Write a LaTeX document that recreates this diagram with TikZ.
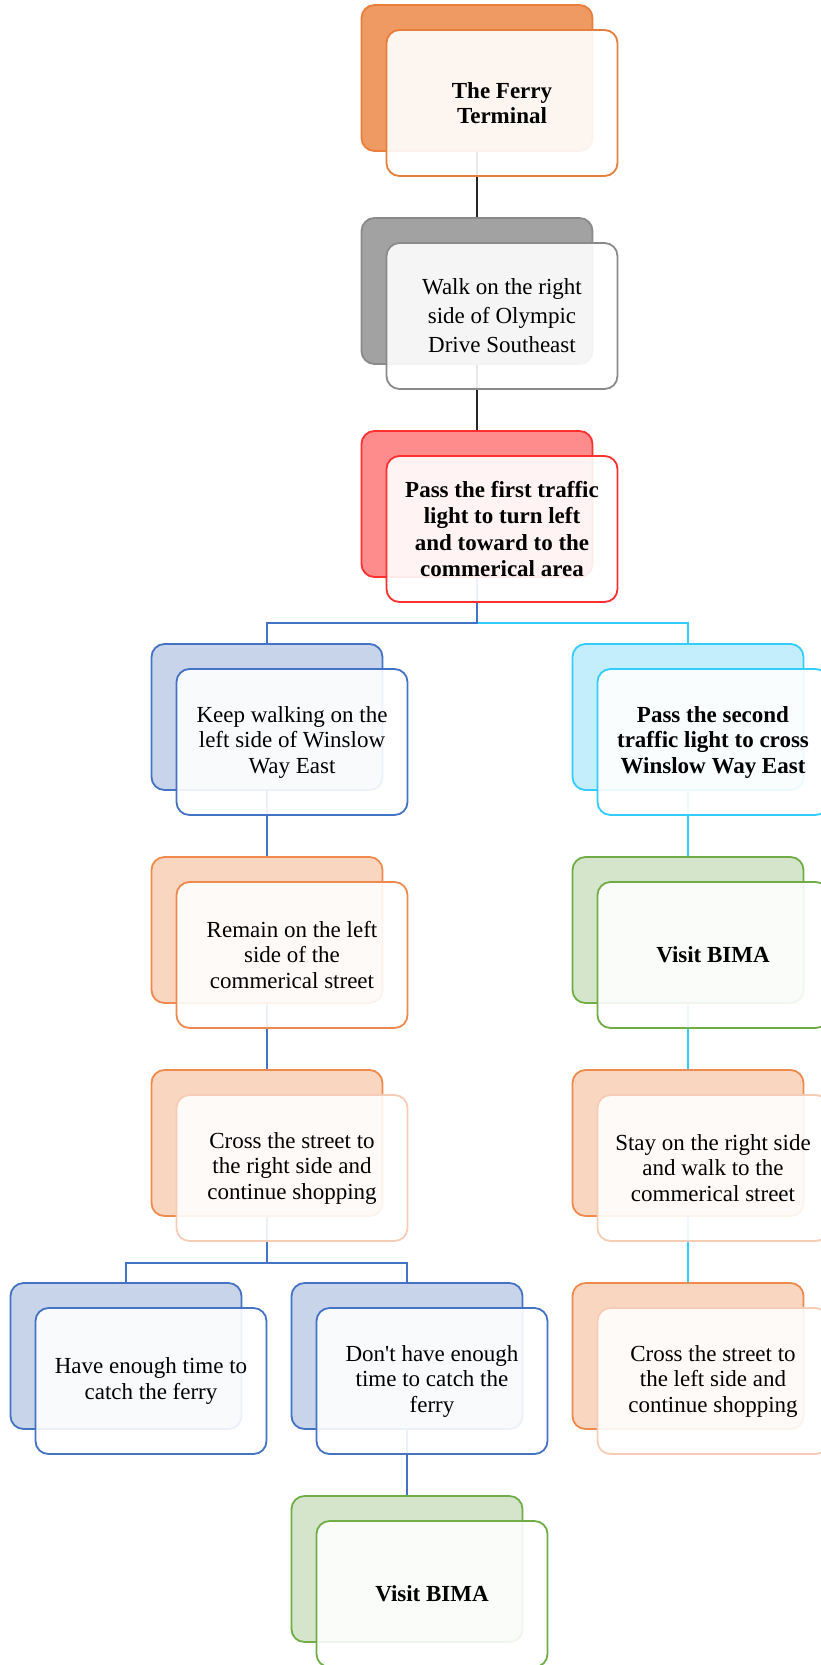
\documentclass[tikz,border=0pt]{standalone}
\usepackage{fontspec}
\setmainfont{Liberation Serif}
\usetikzlibrary{positioning}

\definecolor{orangeline}{RGB}{232,126,60}
\definecolor{orangefill}{RGB}{239,153,99}
\definecolor{grayline}{RGB}{138,138,138}
\definecolor{grayfill}{RGB}{162,162,162}
\definecolor{redline}{RGB}{255,48,48}
\definecolor{redfill}{RGB}{255,140,140}
\definecolor{blueline}{RGB}{68,114,196}
\definecolor{bluefill}{RGB}{199,212,234}
\definecolor{cyanline}{RGB}{51,204,255}
\definecolor{cyanfill}{RGB}{197,238,252}
\definecolor{peachline}{RGB}{238,138,78}
\definecolor{peachfill}{RGB}{249,214,192}
\definecolor{peachsoft}{RGB}{246,204,182}
\definecolor{greenline}{RGB}{112,173,71}
\definecolor{greenfill}{RGB}{213,229,203}

\begin{document}
\begin{tikzpicture}[x=1pt,y=1pt,
    box/.style={rounded corners=13pt,minimum width=231pt,minimum height=146pt,line width=1.8pt},
    back/.style={box,draw=#1line,fill=#1fill},
    front/.style={box,draw=#1,fill=white,fill opacity=0.9,text opacity=1,align=center,
        font=\fontsize{23}{25.5}\selectfont,xshift=25pt,yshift=-25pt},
    link/.style={line width=1.6pt}]
    \useasboundingbox (0,0) rectangle (820,-1665);
    % back boxes
    \node[back=orange] (ferryB) at (477,-78) {};
    \node[back=gray] (walkB) at (477,-291) {};
    \node[back=red] (firstB) at (477,-504) {};
    \node[back=blue] (keepB) at (267,-717) {};
    \node[back=cyan] (secondB) at (688,-717) {};
    \node[back=peach] (remainB) at (267,-930) {};
    \node[back=green] (bimaB) at (688,-930) {};
    \node[back=peach] (crossrB) at (267,-1143) {};
    \node[back=peach] (stayB) at (688,-1143) {};
    \node[back=blue] (enoughB) at (126,-1356) {};
    \node[back=blue] (lateB) at (407,-1356) {};
    \node[back=peach] (crosslB) at (688,-1356) {};
    \node[back=green] (bimatwoB) at (407,-1569) {};
    % connectors
    \draw[link,black!85] (ferryB.south) -- (walkB.north);
    \draw[link,black!85] (walkB.south) -- (firstB.north);
    \draw[link,cyanline] (firstB.south) -- ++(0,-45) -| (secondB.north);
    \draw[link,blueline] (firstB.south) -- ++(0,-45) -| (keepB.north);
    \draw[link,blueline] (keepB.south) -- (remainB.north);
    \draw[link,blueline] (remainB.south) -- (crossrB.north);
    \draw[link,blueline] (crossrB.south) -- ++(0,-46) -| (enoughB.north);
    \draw[link,blueline] (crossrB.south) -- ++(0,-46) -| (lateB.north);
    \draw[link,blueline] (lateB.south) -- (bimatwoB.north);
    \draw[link,cyanline] (secondB.south) -- (bimaB.north);
    \draw[link,cyanline] (bimaB.south) -- (stayB.north);
    \draw[link,cyanline] (stayB.south) -- (crosslB.north);
    % front boxes
    \node[front=orangeline] (ferry) at (ferryB) {\bfseries The Ferry\\\bfseries Terminal};
    \node[front=grayline,font=\fontsize{23}{29}\selectfont] (walk) at (walkB) {Walk on the right\\side of Olympic\\Drive Southeast};
    \node[front=redline,font=\fontsize{23}{26.5}\selectfont] (first) at (firstB) {\bfseries Pass the first traffic\\\bfseries light to turn left\\\bfseries and toward to the\\\bfseries commerical area};
    \node[front=blueline] (keep) at (keepB) {Keep walking on the\\left side of Winslow\\Way East};
    \node[front=cyanline] (second) at (secondB) {\bfseries Pass the second\\\bfseries traffic light to cross\\\bfseries Winslow Way East};
    \node[front=peachline] (remain) at (remainB) {Remain on the left\\side of the\\commerical street};
    \node[front=greenline] (bima) at (bimaB) {\bfseries Visit BIMA};
    \node[front=peachsoft] (crossr) at (crossrB) {Cross the street to\\the right side and\\continue shopping};
    \node[front=peachsoft] (stay) at (stayB) {Stay on the right side\\and walk to the\\commerical street};
    \node[front=blueline] (enough) at (enoughB) {Have enough time to\\catch the ferry};
    \node[front=blueline] (late) at (lateB) {Don\textquotesingle t have enough\\time to catch the\\ferry};
    \node[front=peachsoft] (crossl) at (crosslB) {Cross the street to\\the left side and\\continue shopping};
    \node[front=greenline] (bimatwo) at (bimatwoB) {\bfseries Visit BIMA};
\end{tikzpicture}
\end{document}
